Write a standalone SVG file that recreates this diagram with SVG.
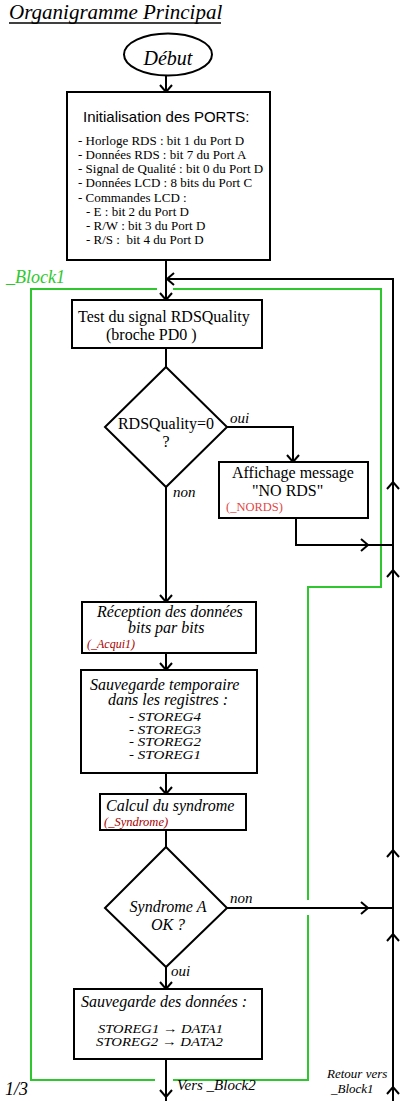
<svg xmlns="http://www.w3.org/2000/svg" width="408" height="1101" viewBox="0 0 408 1101">
<style>
.bg{fill:#ffffff}
.box{fill:#ffffff;stroke:#000;stroke-width:2}
.ln{fill:none;stroke:#000;stroke-width:2}
.chev{fill:none;stroke:#000;stroke-width:2}
.grn{fill:none;stroke:#2ec82e;stroke-width:2}
text{font-family:"Liberation Serif","Times New Roman",serif;fill:#000;white-space:pre}
.sans{font-family:"Liberation Sans",Arial,sans-serif}
.it{font-style:italic}
.t16{font-size:16px}
.t15{font-size:15px}
.t13{font-size:13px}
.red{fill:#e04848}
.dred{fill:#a80000}
.green{fill:#2ec82e}
</style>
<rect class="bg" x="0" y="0" width="408" height="1101"/>

<g id="title">
<text x="9" y="19" class="it" font-size="21">Organigramme Principal</text>
<line x1="9" y1="23" x2="221" y2="23" stroke="#000" stroke-width="1.5"/>
</g>

<g id="block1-frame">
<path class="grn" d="M157,289 H31 V1080 H155"/>
<path class="grn" d="M173,1080 H308 V915"/>
<path class="grn" d="M308,900 V587 H381 V289 H173"/>
<text x="6" y="283" class="it green" font-size="18">_Block1</text>
</g>

<g id="connectors">
<path class="ln" d="M166,76 V92"/>
<path class="chev" d="M160,85 L166,92 L172,85"/>
<path class="ln" d="M166,260 V300"/>
<path class="chev" d="M160,293 L166,300 L172,293"/>
<path class="ln" d="M393,1101 V279 H166"/>
<path class="chev" d="M174,273 L167,279 L174,285"/>
<path class="chev" d="M387,489 L393,482 L399,489"/>
<path class="chev" d="M387,577 L393,570 L399,577"/>
<path class="chev" d="M387,857 L393,850 L399,857"/>
<path class="chev" d="M387,941 L393,934 L399,941"/>
<path class="chev" d="M387,1094 L393,1087 L399,1094"/>
<path class="ln" d="M166,348 V367"/>
<path class="ln" d="M227,427 H293 V462"/>
<path class="chev" d="M287,455 L293,462 L299,455"/>
<path class="ln" d="M296,518 V545 H393"/>
<path class="chev" d="M361,539 L368,545 L361,551"/>
<path class="ln" d="M166,487 V602"/>
<path class="chev" d="M160,595 L166,602 L172,595"/>
<path class="ln" d="M166,653 V670"/>
<path class="chev" d="M160,663 L166,670 L172,663"/>
<path class="ln" d="M166,773 V794"/>
<path class="chev" d="M160,787 L166,794 L172,787"/>
<path class="ln" d="M166,830 V847"/>
<path class="ln" d="M227,908 H393"/>
<path class="chev" d="M361,902 L368,908 L361,914"/>
<path class="ln" d="M166,967 V989"/>
<path class="chev" d="M160,982 L166,989 L172,982"/>
<path class="ln" d="M166,1059 V1101"/>
<path class="chev" d="M160,1090 L166,1097 L172,1090"/>
<text x="230" y="423" class="it t15">oui</text>
<text x="173" y="497" class="it t15">non</text>
<text x="230" y="903" class="it t15">non</text>
<text x="171" y="976" class="it t15">oui</text>
<text x="177" y="1090" class="it t15">Vers _Block2</text>
<text x="327" y="1078" class="it t13">Retour vers</text>
<text x="331" y="1093" class="it t13">_Block1</text>
</g>

<g id="debut">
<ellipse cx="168" cy="54.5" rx="44" ry="21" fill="#fff" stroke="#000" stroke-width="2"/>
<text x="168" y="65" class="it" font-size="20" text-anchor="middle">Début</text>
</g>

<g id="init">
<rect class="box" x="67" y="92" width="203" height="168"/>
<text x="83" y="122" class="sans t15">Initialisation des PORTS:</text>
<text x="78" y="145" class="t13">- Horloge RDS : bit 1 du Port D</text>
<text x="78" y="159" class="t13">- Données RDS : bit 7 du Port A</text>
<text x="78" y="173" class="t13">- Signal de Qualité : bit 0 du Port D</text>
<text x="78" y="187" class="t13">- Données LCD : 8 bits du Port C</text>
<text x="78" y="202" class="t13">- Commandes LCD :</text>
<text x="86" y="216" class="t13">- E : bit 2 du Port D</text>
<text x="86" y="230" class="t13">- R/W : bit 3 du Port D</text>
<text x="86" y="244" class="t13">- R/S :  bit 4 du Port D</text>
</g>

<g id="test">
<rect class="box" x="72" y="300" width="190" height="48"/>
<text x="78" y="322" class="t16">Test du signal RDSQuality</text>
<text x="106" y="340" class="t16">(broche PD0 )</text>
</g>

<g id="decision1">
<polygon class="box" points="166,367 227,427 166,487 105,427"/>
<text x="166" y="429" class="t16" text-anchor="middle">RDSQuality=0</text>
<text x="166" y="447" class="t16" text-anchor="middle">?</text>
</g>

<g id="nords">
<rect class="box" x="219" y="462" width="149" height="56"/>
<text x="232" y="478" class="t16">Affichage message</text>
<text x="252" y="496" class="t16">"NO RDS"</text>
<text x="226" y="511" class="red" font-size="12.5">(_NORDS)</text>
</g>

<g id="reception">
<rect class="box" x="82" y="602" width="174" height="51"/>
<text x="97" y="617" class="it t16">Réception des données</text>
<text x="128" y="633" class="it t16">bits par bits</text>
<text x="87" y="648" class="it dred" font-size="12">(_Acqui1)</text>
</g>

<g id="sauvtemp">
<rect class="box" x="81" y="670" width="176" height="103"/>
<text x="90" y="690" class="it t16">Sauvegarde temporaire</text>
<text x="108" y="705" class="it t16">dans les registres :</text>
<text x="129" y="721" class="it" font-size="12.5" textLength="72" lengthAdjust="spacingAndGlyphs">- STOREG4</text>
<text x="129" y="733.5" class="it" font-size="12.5" textLength="72" lengthAdjust="spacingAndGlyphs">- STOREG3</text>
<text x="129" y="746" class="it" font-size="12.5" textLength="72" lengthAdjust="spacingAndGlyphs">- STOREG2</text>
<text x="129" y="758.5" class="it" font-size="12.5" textLength="72" lengthAdjust="spacingAndGlyphs">- STOREG1</text>
</g>

<g id="calcul">
<rect class="box" x="100" y="794" width="146" height="36"/>
<text x="106" y="811" class="it t16">Calcul du syndrome</text>
<text x="104" y="826" class="it dred" font-size="12.5">(_Syndrome)</text>
</g>

<g id="decision2">
<polygon class="box" points="166,847 227,908 166,967 105,908"/>
<text x="168" y="912" class="it t16" text-anchor="middle">Syndrome A</text>
<text x="168" y="930" class="it t16" text-anchor="middle">OK ?</text>
</g>

<g id="sauvdonnees">
<rect class="box" x="74" y="989" width="188" height="70"/>
<text x="81" y="1007" class="it t16">Sauvegarde des données :</text>
<text x="98" y="1033" class="it" font-size="13.5" textLength="125" lengthAdjust="spacingAndGlyphs">STOREG1 → DATA1</text>
<text x="96" y="1046" class="it" font-size="13.5" textLength="127" lengthAdjust="spacingAndGlyphs">STOREG2 → DATA2</text>
</g>

<g id="page">
<text x="5" y="1095" class="it" font-size="18">1/3</text>
</g>
</svg>
